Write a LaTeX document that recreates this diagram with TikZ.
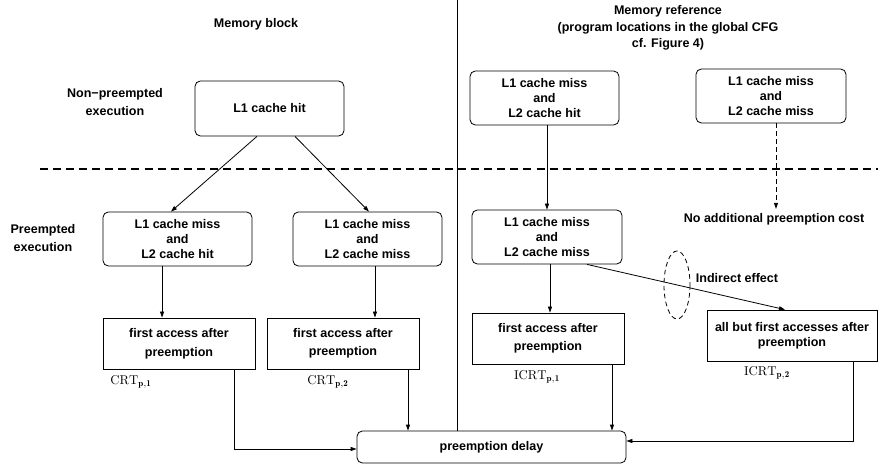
\documentclass[tikz,border=0pt]{standalone}
\usepackage{fontspec}
\setsansfont{Liberation Sans}
\usetikzlibrary{arrows.meta,calc}
\begin{document}
\begin{tikzpicture}[x=0.75pt,y=-0.75pt,
  lbl/.style={font=\sffamily\bfseries\fontsize{9.4}{11.3}\selectfont, align=center, inner sep=0pt},
  sz/.style 2 args={minimum width=#1*0.75pt, minimum height=#2*0.75pt},
  rbox/.style={lbl, draw, line width=0.6pt, rounded corners=4pt},
  sbox/.style={lbl, draw, line width=0.6pt},
  arr/.style={line width=0.6pt, -{Triangle[length=4.5pt,width=3pt]}},
  sub/.style={inner sep=0pt, font=\fontsize{9.6}{11}\selectfont}]
\useasboundingbox (0,0) rectangle (878,470);

% section separators
\draw[line width=1.1pt, dash pattern=on 6pt off 3.8pt] (40,169) coordinate (sepL) -- (878,169) coordinate (sepR);

% headings and row labels
\node[lbl] (hdblock) at (256,24) {Memory block};
\node[lbl, font=\sffamily\bfseries\fontsize{9.4}{12.4}\selectfont] (hdref) at (668,28)
  {Memory reference\\(program locations in the global CFG\\cf. Figure 4)};
\node[lbl, font=\sffamily\bfseries\fontsize{9.4}{12.8}\selectfont] (rownp) at (115,102) {Non−preempted\\execution};
\node[lbl, font=\sffamily\bfseries\fontsize{9.4}{13.5}\selectfont] (rowp) at (43,238) {Preempted\\execution};

% memory block column
\node[rbox, sz={149}{55}] (hit) at (269.5,108.5) {L1 cache hit};
\node[rbox, sz={149}{54}] (a1) at (177.5,239) {L1 cache miss\\and\\L2 cache hit};
\node[rbox, sz={149}{54}] (a2) at (367.5,239) {L1 cache miss\\and\\L2 cache miss};
\node[sbox, sz={152}{51}, font=\sffamily\bfseries\fontsize{9.4}{14.2}\selectfont] (b1) at (179,343.5) {first access after\\preemption};
\node[sbox, sz={152}{51}, font=\sffamily\bfseries\fontsize{9.4}{13.5}\selectfont] (b2) at (343,343.5) {first access after\\preemption};
\node[sub] (crt1) at (131,382) {$\mathrm{CRT}_{\mathbf{p,1}}$};
\node[sub] (crt2) at (328,382) {$\mathrm{CRT}_{\mathbf{p,2}}$};

% memory reference column
\node[rbox, sz={149}{54}] (c1) at (544.5,98) {L1 cache miss\\and\\L2 cache hit};
\node[rbox, sz={150}{54}] (c2) at (771,96) {L1 cache miss\\and\\L2 cache miss};
\node[rbox, sz={150}{54}] (d1) at (547,237) {L1 cache miss\\and\\L2 cache miss};
\node[lbl, inner sep=3pt] (noadd) at (774,219) {No additional preemption cost};
\node[sbox, sz={152}{51}, font=\sffamily\bfseries\fontsize{9.4}{13.5}\selectfont] (e1) at (548,338.5) {first access after\\preemption};
\node[sbox, sz={170}{51}] (e2) at (792,335.5) {all but first accesses after\\preemption};
\node[sub] (icrt1) at (537,377) {$\mathrm{ICRT}_{\mathbf{p,1}}$};
\node[sub] (icrt2) at (767,373) {$\mathrm{ICRT}_{\mathbf{p,2}}$};
\node[lbl] (indirect) at (737,278) {Indirect effect};
\draw[line width=0.6pt, dash pattern=on 3.5pt off 2.5pt] (677,285) ellipse [x radius=13, y radius=34];

% common sink
\node[rbox, sz={269}{32}] (delay) at (491.5,447) {preemption delay};

% column separator
\draw[line width=0.6pt] (457,0) coordinate (colTop) -- (colTop |- delay.north);

% connectors
\draw[arr] ([xshift=-9.4pt]hit.south) -- ([xshift=-4.9pt]a1.north);
\draw[arr] ([xshift=19.1pt]hit.south) -- ([xshift=1.1pt]a2.north);
\draw[arr] ([xshift=-11.6pt]a1.south) coordinate (t1) -- (t1 |- b1.north);
\draw[arr] ([xshift=5.6pt]a2.south) coordinate (t2) -- (t2 |- b2.north);
\draw[arr] ([xshift=41.25pt]b1.south) |- ([yshift=-1.5pt]delay.west);
\draw[arr] ([xshift=48.75pt]b2.south) coordinate (t3) -- (t3 |- delay.north);

\draw[arr] (d1.north |- c1.south) -- (d1.north);
\draw[arr, dash pattern=on 3.5pt off 2.5pt] ([xshift=3.75pt]c2.south) coordinate (t4) -- (t4 |- noadd.north);
\draw[arr] ([xshift=2.25pt]d1.south) coordinate (t5) -- (t5 |- e1.north);
\draw[arr] ([xshift=30pt]d1.south) -- ([xshift=-5.25pt]e2.north);
\draw[arr] ([xshift=48pt]e1.south) coordinate (t6) -- (t6 |- delay.north);
\draw[arr] ([xshift=45.75pt]e2.south) |- ([yshift=4.5pt]delay.east);
\end{tikzpicture}
\end{document}
